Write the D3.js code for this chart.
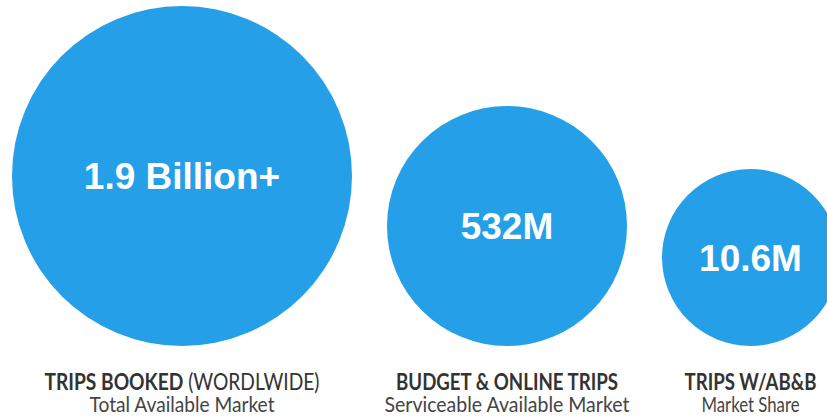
<!DOCTYPE html>
<html>
<head>
<meta charset="utf-8">
<script src="https://cdn.jsdelivr.net/npm/d3@7"></script>
<style>
  html, body { margin: 0; padding: 0; background: #fff; }
  svg { display: block; }
</style>
</head>
<body>
<svg id="chart" width="827" height="419"></svg>
<script>
// Data
const categories = ["TRIPS BOOKED", "BUDGET & ONLINE TRIPS", "TRIPS W/AB&B"];
const qualifiers = [" (WORDLWIDE)", "", ""];
const subtitles = ["Total Available Market", "Serviceable Available Market", "Market Share"];
const values = [1900, 532, 10.6]; // millions
const valueLabels = ["1.9 Billion+", "532M", "10.6M"];

const W = 827, H = 419;
const svg = d3.select("#chart");

// Radius scale (piecewise, as drawn in the reference)
const r = d3.scaleLinear().domain([10.6, 532, 1900]).range([88.5, 120, 170]);

const left = 12, gap = 35, baseY = 346;
let x = left;
const nodes = values.map((v, i) => {
  const rad = r(v);
  const cx = x + rad;
  x = cx + rad + gap;
  return { i, v, rad, cx, cy: baseY - rad };
});

// condensed label widths (style: the reference uses a narrow typeface)
const catWidth = [275, 222, 132];
const subWidth = [185, 245, 98];

const g = svg.append("g");

g.selectAll("circle").data(nodes).join("circle")
  .attr("cx", d => d.cx).attr("cy", d => d.cy).attr("r", d => d.rad)
  .attr("fill", "#249fe8");

g.selectAll("text.val").data(nodes).join("text")
  .attr("class", "val")
  .attr("x", d => d.cx).attr("y", d => d.cy)
  .attr("dy", "0.36em")
  .attr("text-anchor", "middle")
  .attr("fill", "#fff")
  .style("font-family", "'Liberation Sans', Arial, sans-serif")
  .style("font-weight", "bold")
  .style("font-size", "37px")
  .text(d => valueLabels[d.i]);

const t1 = g.selectAll("text.cat").data(nodes).join("text")
  .attr("class", "cat")
  .attr("x", d => d.cx).attr("y", 390)
  .attr("text-anchor", "middle")
  .attr("fill", "#333")
  .attr("textLength", d => catWidth[d.i])
  .attr("lengthAdjust", "spacingAndGlyphs")
  .style("font-family", "Lato, 'Open Sans', sans-serif")
  .style("font-size", "23px");
t1.append("tspan").style("font-weight", "bold").text(d => categories[d.i]);
t1.append("tspan").style("font-weight", "normal").text(d => qualifiers[d.i]);

g.selectAll("text.sub").data(nodes).join("text")
  .attr("class", "sub")
  .attr("x", d => d.cx).attr("y", 412)
  .attr("text-anchor", "middle")
  .attr("fill", "#444")
  .attr("textLength", d => subWidth[d.i])
  .attr("lengthAdjust", "spacingAndGlyphs")
  .style("font-family", "Lato, 'Open Sans', sans-serif")
  .style("font-size", "22px")
  .text(d => subtitles[d.i]);
</script>
</body>
</html>
